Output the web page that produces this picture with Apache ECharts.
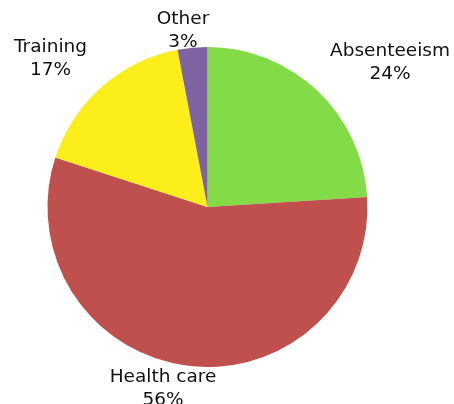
<!DOCTYPE html>
<html>
<head>
<meta charset="utf-8">
<script src="https://cdn.jsdelivr.net/npm/echarts@6/dist/echarts.min.js"></script>
<style>
  html, body { margin: 0; padding: 0; background: #fff; }
  #chart { width: 454px; height: 404px; }
</style>
</head>
<body>
<div id="chart"></div>
<script>
// cost categories, clockwise from 12 o'clock
const categories = ["Absenteeism", "Health care", "Training", "Other"];
const shares = [24, 56, 17, 3];
const colors = ["#83dc47", "#c0504d", "#fcee1a", "#8064a2"];

// where each label sits (centre of text block)
const labelPos = {
  "Absenteeism": [390, 63],
  "Health care": [163, 389],
  "Training": [50.5, 59],
  "Other": [183, 31]
};

const chart = echarts.init(document.getElementById("chart"));

const option = {
  animation: false,
  textStyle: { fontFamily: "DejaVu Sans" },
  series: [
    {
      type: "pie",
      center: [207.5, 207],
      radius: 160,
      startAngle: 90,
      clockwise: true,
      data: categories.map((c, i) => ({
        name: c,
        value: shares[i],
        itemStyle: { color: colors[i] }
      })),
      label: {
        show: true,
        position: "outside",
        formatter: "{b}\n{c}%",
        color: "#111",
        fontSize: 18.5,
        lineHeight: 23,
        overflow: "none",
        fontFamily: "DejaVu Sans"
      },
      labelLine: { show: false },
      labelLayout: (params) => {
        const name = categories[params.dataIndex];
        const p = labelPos[name];
        return { x: p[0], y: p[1], align: "center", verticalAlign: "middle" };
      },
      emphasis: { disabled: true }
    }
  ]
};

option && chart.setOption(option);
</script>
</body>
</html>
